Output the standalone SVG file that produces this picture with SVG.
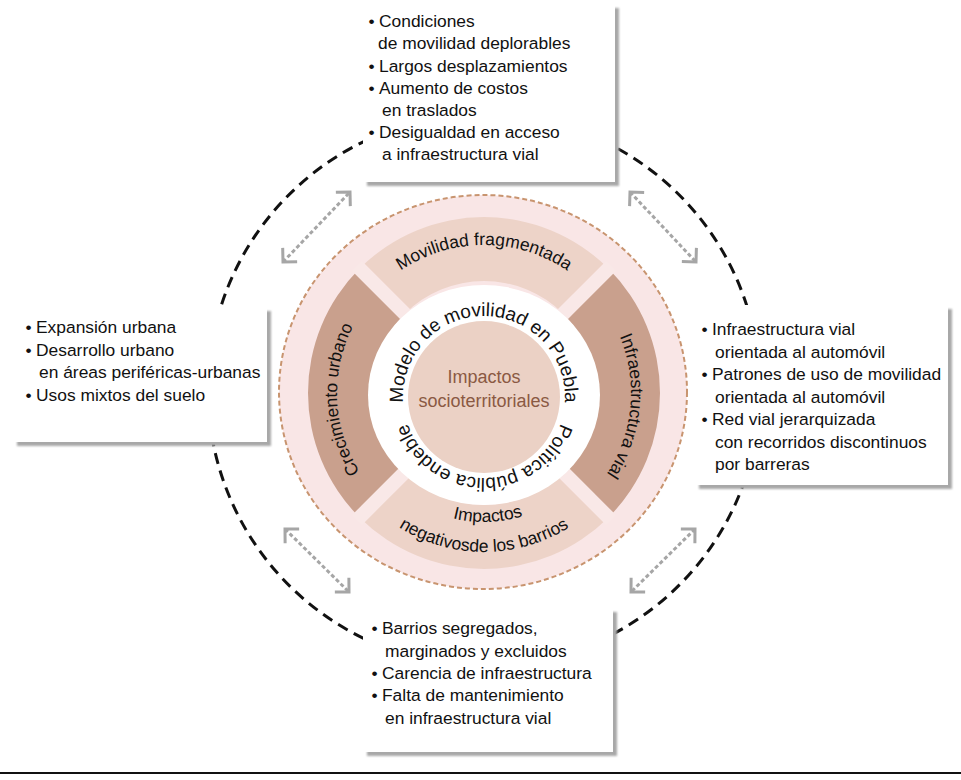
<svg xmlns="http://www.w3.org/2000/svg" width="961" height="780" viewBox="0 0 961 780">
<style>
.bx{fill:#ffffff}
.sh{fill:#a8a8a8;filter:url(#blur)}
.t{font-family:"Liberation Sans",Arial,sans-serif;font-size:17.4px;fill:#111}
.arc{font-family:"Liberation Sans",Arial,sans-serif;font-size:17.5px;fill:#111}
.arcb{font-family:"Liberation Sans",Arial,sans-serif;font-size:19px;fill:#111}
.ctr{font-family:"Liberation Sans",Arial,sans-serif;font-size:18px;fill:#8a5943;text-anchor:middle}
.ga{fill:none;stroke:#a6a6a6;stroke-width:3;stroke-dasharray:4 2.5;marker-start:url(#ah);marker-end:url(#ah)}
</style>
<defs>
<filter id="blur" x="-5%" y="-5%" width="110%" height="110%"><feGaussianBlur stdDeviation="1.2"/></filter>
<marker id="ah" markerUnits="userSpaceOnUse" viewBox="0 0 24 24" refX="12" refY="12" markerWidth="24" markerHeight="24" orient="auto-start-reverse">
<path d="M2,2 L12,12 L2,22" fill="none" stroke="#a6a6a6" stroke-width="3"/>
</marker>
<path id="pModelo" d="M 403,397 A 81 81 0 1 1 565,397 A 81 81 0 1 1 403,397"/>
<path id="pMov" d="M 336,393 A 148 148 0 0 1 632,393"/>
<path id="pCrec" d="M 484,540 A 147 147 0 0 1 484,246"/>
<path id="pInf" d="M 484,246 A 147 147 0 0 1 484,540"/>
<path id="pNeg" d="M 325,393 A 159 159 0 0 0 643,393"/>
<path id="pImp" d="M 355,393 A 129 129 0 0 0 613,393"/>
</defs>
<rect width="961" height="780" fill="#ffffff"/>

<g id="connectors">
<circle cx="484" cy="390" r="276" fill="none" stroke="#111" stroke-width="3" stroke-dasharray="11 7"/>
<line class="ga" x1="283" y1="262" x2="350" y2="192"/>
<line class="ga" x1="630" y1="192" x2="696" y2="262"/>
<line class="ga" x1="285" y1="529" x2="349" y2="592"/>
<line class="ga" x1="695" y1="529" x2="631" y2="592"/>
</g>

<g id="core">
<ellipse cx="483" cy="392" rx="204" ry="197" fill="#f9e6e6" stroke="#c8946f" stroke-width="2" stroke-dasharray="5 3"/>
<path id="band-top" d="M 359.55,268.55 A 176 176 0 0 1 608.45,268.55 L 563.2,313.8 A 112 112 0 0 0 404.8,313.8 Z" fill="#edd3c8"/>
<path id="band-right" d="M 608.45,268.55 A 176 176 0 0 1 608.45,517.45 L 563.2,472.2 A 112 112 0 0 0 563.2,313.8 Z" fill="#c9a08d"/>
<path id="band-bottom" d="M 608.45,517.45 A 176 176 0 0 1 359.55,517.45 L 404.8,472.2 A 112 112 0 0 0 563.2,472.2 Z" fill="#edd3c8"/>
<path id="band-left" d="M 359.55,517.45 A 176 176 0 0 1 359.55,268.55 L 404.8,313.8 A 112 112 0 0 0 404.8,472.2 Z" fill="#c9a08d"/>
<line x1="357" y1="266" x2="611" y2="520" stroke="#f9e8e7" stroke-width="14"/>
<line x1="611" y1="266" x2="357" y2="520" stroke="#f9e8e7" stroke-width="14"/>
<ellipse cx="484" cy="395" rx="116" ry="110" fill="#ffffff"/>
<circle cx="484" cy="397" r="76" fill="#ebd1c5"/>
</g>

<g id="center-label">
<text class="ctr" x="484" y="383">Impactos</text>
<text class="ctr" x="484" y="407">socioterritoriales</text>
</g>

<g id="ring-labels">
<text class="arcb" text-anchor="middle"><textPath href="#pModelo" startOffset="25%">Modelo de movilidad en Puebla</textPath></text>
<text class="arcb" text-anchor="middle"><textPath href="#pModelo" startOffset="75%">Política pública endeble</textPath></text>
</g>

<g id="band-labels">
<text class="arc" text-anchor="middle"><textPath href="#pMov" startOffset="50%">Movilidad fragmentada</textPath></text>
<text class="arc" text-anchor="middle"><textPath href="#pCrec" startOffset="48.5%">Crecimiento urbano</textPath></text>
<text class="arc" text-anchor="middle"><textPath href="#pInf" startOffset="53%">Infraestructura vial</textPath></text>
<text class="arc" text-anchor="middle"><textPath href="#pImp" startOffset="51%">Impactos</textPath></text>
<text class="arc" text-anchor="middle"><textPath href="#pNeg" startOffset="50%">negativosde los barrios</textPath></text>
</g>

<g id="box-top">
<rect class="sh" x="367" y="8" width="252" height="178"/>
<rect class="bx" x="363" y="4" width="252" height="178"/>
<text class="t" x="368.5" y="26.5">•</text><text class="t" x="379" y="26.5">Condiciones</text>
<text class="t" x="378" y="48.5">de movilidad deplorables</text>
<text class="t" x="368.5" y="71.5">•</text><text class="t" x="379" y="71.5">Largos desplazamientos</text>
<text class="t" x="368.5" y="93.5">•</text><text class="t" x="379" y="93.5">Aumento de costos</text>
<text class="t" x="382" y="115.5">en traslados</text>
<text class="t" x="368.5" y="138">•</text><text class="t" x="379" y="138">Desigualdad en acceso</text>
<text class="t" x="382" y="160">a infraestructura vial</text>
</g>

<g id="box-left">
<rect class="sh" x="17" y="311" width="254" height="135"/>
<rect class="bx" x="13" y="307" width="254" height="135"/>
<text class="t" x="25.5" y="333">•</text><text class="t" x="36" y="333">Expansión urbana</text>
<text class="t" x="25.5" y="355.5">•</text><text class="t" x="36" y="355.5">Desarrollo urbano</text>
<text class="t" x="39" y="378">en áreas periféricas-urbanas</text>
<text class="t" x="25.5" y="401">•</text><text class="t" x="36" y="401">Usos mixtos del suelo</text>
</g>

<g id="box-right">
<rect class="sh" x="699" y="309" width="253" height="180"/>
<rect class="bx" x="695" y="305" width="253" height="180"/>
<text class="t" x="701.5" y="335">•</text><text class="t" x="712" y="335">Infraestructura vial</text>
<text class="t" x="715" y="357.5">orientada al automóvil</text>
<text class="t" x="701.5" y="380">•</text><text class="t" x="712" y="380">Patrones de uso de movilidad</text>
<text class="t" x="715" y="402.5">orientada al automóvil</text>
<text class="t" x="701.5" y="425">•</text><text class="t" x="712" y="425">Red vial jerarquizada</text>
<text class="t" x="715" y="447.5">con recorridos discontinuos</text>
<text class="t" x="715" y="470">por barreras</text>
</g>

<g id="box-bottom">
<rect class="sh" x="367" y="612" width="250" height="144"/>
<rect class="bx" x="363" y="608" width="250" height="144"/>
<text class="t" x="371.5" y="634">•</text><text class="t" x="382" y="634">Barrios segregados,</text>
<text class="t" x="385" y="656.5">marginados y excluidos</text>
<text class="t" x="371.5" y="679">•</text><text class="t" x="382" y="679">Carencia de infraestructura</text>
<text class="t" x="371.5" y="701">•</text><text class="t" x="382" y="701">Falta de mantenimiento</text>
<text class="t" x="385" y="723.5">en infraestructura vial</text>
</g>

<line x1="0" y1="773" x2="961" y2="773" stroke="#111" stroke-width="2"/>
</svg>
